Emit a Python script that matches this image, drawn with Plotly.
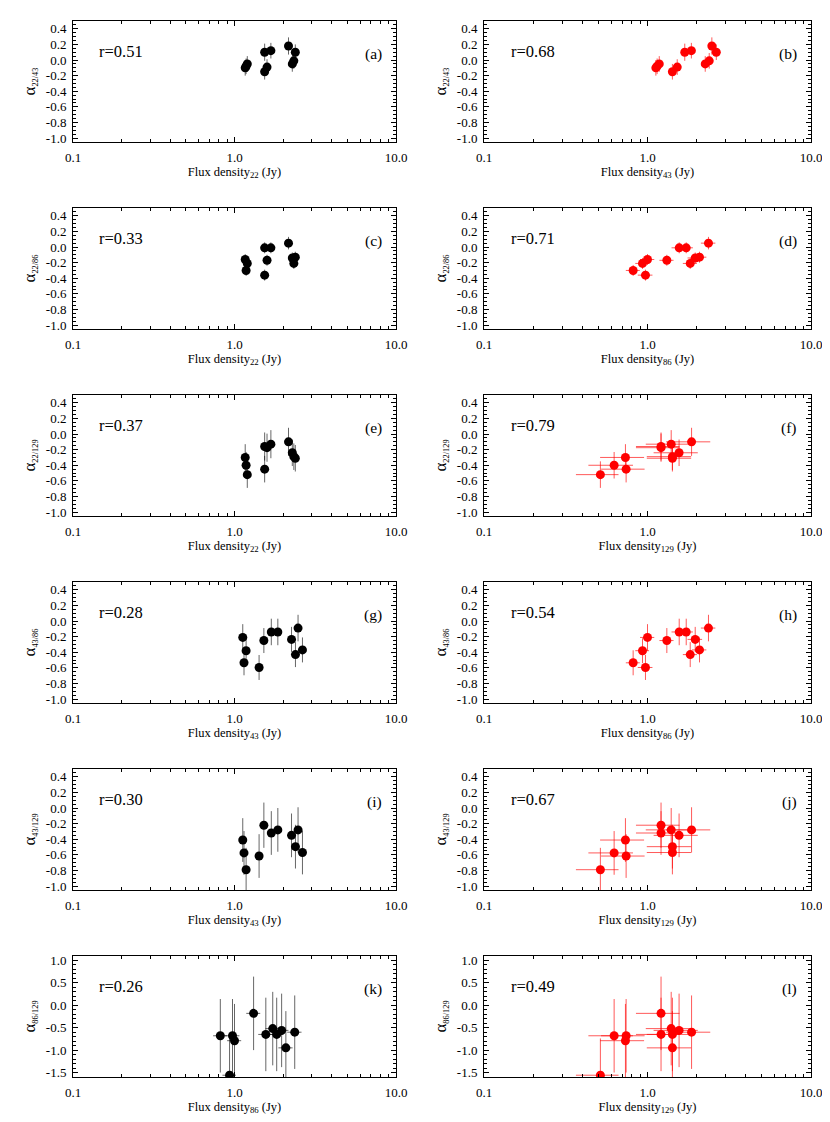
import plotly.graph_objects as go

# Flux densities (Jy) of the 11 epochs at 22, 43, 86 and 129 GHz
S22 = [1.165, 1.18, 1.20, 1.537, 1.537, 1.59, 1.68, 2.16, 2.28, 2.33, 2.38]
S43 = [1.125, 1.145, 1.18, 1.42, 1.69, 1.52, 1.855, 2.475, 2.255, 2.385, 2.635]
S86 = [1.00, 0.817, 0.932, 0.972, 1.563, 1.313, 1.725, 2.36, 1.958, 1.825, 2.08]
S129 = [0.733, 0.625, 0.515, 0.74, 1.21, 1.21, 1.396, 1.86, 1.56, 1.42, 1.42]

E22 = [0.04, 0.04, 0.04, 0.05, 0.05, 0.05, 0.05, 0.07, 0.07, 0.07, 0.07]
E43 = [0.04, 0.04, 0.04, 0.05, 0.06, 0.05, 0.06, 0.08, 0.07, 0.08, 0.08]
E86 = [0.10, 0.08, 0.09, 0.10, 0.16, 0.13, 0.17, 0.24, 0.20, 0.18, 0.21]
E129 = [0.22, 0.19, 0.15, 0.22, 0.36, 0.36, 0.42, 0.56, 0.47, 0.43, 0.43]

# Spectral indices and their errors
A22_43 = [-0.10, -0.08, -0.05, -0.15, 0.10, -0.09, 0.12, 0.18, -0.05, -0.01, 0.10]
D22_43 = [0.10, 0.10, 0.10, 0.10, 0.11, 0.10, 0.10, 0.11, 0.10, 0.10, 0.10]
A22_86 = [-0.16, -0.30, -0.21, -0.36, -0.01, -0.17, -0.01, 0.05, -0.14, -0.21, -0.13]
D22_86 = [0.07, 0.07, 0.07, 0.07, 0.07, 0.07, 0.07, 0.08, 0.07, 0.07, 0.07]
A22_129 = [-0.30, -0.40, -0.52, -0.45, -0.16, -0.175, -0.13, -0.10, -0.24, -0.29, -0.31]
D22_129 = [0.17, 0.17, 0.17, 0.17, 0.18, 0.18, 0.18, 0.18, 0.17, 0.17, 0.17]
A43_86 = [-0.21, -0.535, -0.38, -0.595, -0.14, -0.25, -0.14, -0.09, -0.235, -0.43, -0.37]
D43_86 = [0.17, 0.16, 0.16, 0.16, 0.17, 0.16, 0.17, 0.17, 0.16, 0.16, 0.16]
A43_129 = [-0.41, -0.575, -0.79, -0.615, -0.32, -0.22, -0.28, -0.28, -0.35, -0.495, -0.57]
D43_129 = [0.28, 0.28, 0.28, 0.28, 0.28, 0.29, 0.28, 0.29, 0.28, 0.28, 0.28]
A86_129 = [-0.79, -0.68, -1.56, -0.68, -0.65, -0.18, -0.52, -0.60, -0.56, -0.65, -0.95]
D86_129 = [0.82, 0.82, 0.82, 0.82, 0.82, 0.82, 0.82, 0.82, 0.82, 0.82, 0.82]

R_VALUES = [0.51, 0.68, 0.33, 0.71, 0.37, 0.79, 0.28, 0.54, 0.30, 0.67, 0.26, 0.49]
LETTERS = ["a", "b", "c", "d", "e", "f", "g", "h", "i", "j", "k", "l"]

X_TICKS = [0.1, 1.0, 10.0]
Y_TICKS = [-1.0, -0.8, -0.6, -0.4, -0.2, 0.0, 0.2, 0.4]
Y_TICKS_LAST = [-1.5, -1.0, -0.5, 0.0, 0.5, 1.0]

# (x flux, x error, frequency label, alpha, alpha error, alpha label)
PANELS = [
    (S22, E22, "22", A22_43, D22_43, "22/43"),
    (S43, E43, "43", A22_43, D22_43, "22/43"),
    (S22, E22, "22", A22_86, D22_86, "22/86"),
    (S86, E86, "86", A22_86, D22_86, "22/86"),
    (S22, E22, "22", A22_129, D22_129, "22/129"),
    (S129, E129, "129", A22_129, D22_129, "22/129"),
    (S43, E43, "43", A43_86, D43_86, "43/86"),
    (S86, E86, "86", A43_86, D43_86, "43/86"),
    (S43, E43, "43", A43_129, D43_129, "43/129"),
    (S129, E129, "129", A43_129, D43_129, "43/129"),
    (S86, E86, "86", A86_129, D86_129, "86/129"),
    (S129, E129, "129", A86_129, D86_129, "86/129"),
]

# the page body has an 8px margin, so the figure is drawn 8px smaller
PAD = 8
W, H = 830 - PAD, 1122 - PAD
COL_PX = [(73, 396), (484, 811)]
ROW_TOP = 21
ROW_STEP = 187
ROW_H = 121
FONT = "Liberation Serif"

fig = go.Figure()
layout = {}

for i, (xs, xe, flabel, al, ae, alabel) in enumerate(PANELS):
    sfx = "" if i == 0 else str(i + 1)
    row, col = divmod(i, 2)
    left = col == 0
    x0, x1 = (p - PAD for p in COL_PX[col])
    top = ROW_TOP + row * ROW_STEP - PAD
    color = "black" if left else "red"
    bar = "rgba(0,0,0,0.6)" if left else "rgba(255,0,0,0.65)"

    fig.add_trace(go.Scatter(
        x=xs, y=al, mode="markers",
        marker=dict(color=color, size=9, line=dict(width=0)),
        error_x=dict(type="data", array=xe, color=bar, thickness=1, width=0),
        error_y=dict(type="data", array=ae, color=bar, thickness=1, width=0),
        xaxis=f"x{sfx}", yaxis=f"y{sfx}", showlegend=False,
    ))

    last = row == 5
    yt = Y_TICKS_LAST if last else Y_TICKS
    axis_font = dict(family=FONT, size=13, color="black")

    layout[f"xaxis{sfx}"] = dict(
        domain=[x0 / W, x1 / W], anchor=f"y{sfx}", type="log", range=[-1, 1],
        automargin=False,
        tickmode="array", tickvals=X_TICKS, ticktext=[f"{v:.1f}" for v in X_TICKS],
        ticks="inside", ticklen=5, tickcolor="black", tickfont=axis_font,
        ticklabelstandoff=3,
        minor=dict(ticks="inside", ticklen=3, dtick="D1", tickcolor="black", showgrid=False),
        showline=True, linecolor="black", linewidth=1, mirror="allticks",
        showgrid=False, zeroline=False,
        title=dict(text=f"Flux density<sub>{flabel}</sub> (Jy)",
                   font=dict(family=FONT, size=12.5, color="black"), standoff=1),
    )
    layout[f"yaxis{sfx}"] = dict(
        domain=[1 - (top + ROW_H) / H, 1 - top / H], anchor=f"x{sfx}",
        range=[-1.6, 1.1] if last else [-1.05, 0.5],
        automargin=False,
        tickmode="array", tickvals=yt, ticktext=[f"{v:.1f}" for v in yt],
        ticks="inside", ticklen=5, tickcolor="black", tickfont=axis_font,
        ticklabelstandoff=3,
        minor=dict(ticks="inside", ticklen=3, dtick=0.1 if last else 0.05,
                   tick0=0, tickcolor="black", showgrid=False),
        showline=True, linecolor="black", linewidth=1, mirror="allticks",
        showgrid=False, zeroline=False,
        title=dict(text=f"<span style='font-size:17px'>α</span><sub>{alabel}</sub>",
                   font=dict(family=FONT, size=12, color="black"), standoff=7),
    )

    fig.add_annotation(
        xref=f"x{sfx} domain", yref=f"y{sfx} domain", x=0.075, y=0.745,
        xanchor="left", yanchor="middle", showarrow=False,
        text=f"r={R_VALUES[i]:.2f}", font=dict(family=FONT, size=16.5, color="black"),
    )
    fig.add_annotation(
        xref=f"x{sfx} domain", yref=f"y{sfx} domain", x=0.962, y=0.73,
        xanchor="right", yanchor="middle", showarrow=False,
        text=f"({LETTERS[i]})", font=dict(family=FONT, size=15.5, color="black"),
    )

fig.update_layout(
    width=W, height=H, margin=dict(l=0, r=0, t=0, b=0),
    paper_bgcolor="white", plot_bgcolor="white", **layout,
)

fig.write_html("out.html")
